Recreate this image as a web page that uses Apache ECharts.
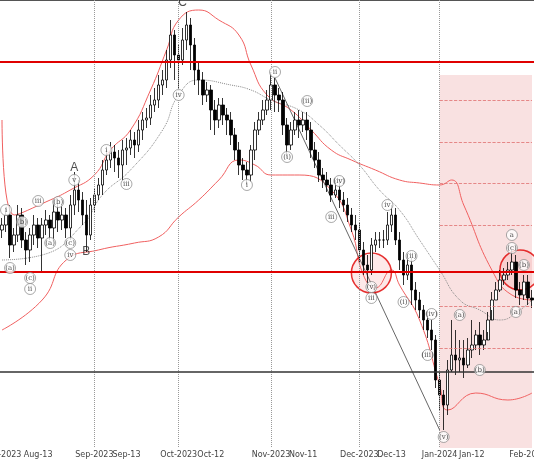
<!DOCTYPE html>
<html><head><meta charset="utf-8">
<script src="https://cdn.jsdelivr.net/npm/echarts@6/dist/echarts.min.js"></script>
<style>html,body{margin:0;padding:0;background:#fff}#c{width:534px;height:462px}</style>
</head><body><div id="c"></div>
<script>
// price scale: chart units, larger = lower on chart (axis inverted)
const opens=[230,225,215,245,235,215,240,250,235,225,
238,225,220,228,212,220,215,228,205,190,
200,215,235,205,195,185,170,160,152,158,
165,150,148,140,145,130,120,118,105,100,
85,80,60,35,55,60,40,25,45,70,
80,95,90,110,120,105,115,120,135,150,
165,170,175,150,130,120,110,100,85,95,
100,125,145,130,120,125,120,130,150,160,
175,180,185,195,190,200,205,215,225,230,
250,265,270,245,240,240,240,225,215,240,
260,275,265,290,300,310,320,330,340,380,
395,405,370,355,360,358,365,350,345,335,
345,340,320,300,290,280,275,270,262,290,
295,282,298];
const closes=[225,215,245,235,215,240,250,235,225,238,
225,220,228,212,220,215,228,205,190,200,
215,235,205,195,185,170,160,152,158,165,
150,148,140,145,130,120,118,105,100,85,
80,60,35,55,60,40,25,45,70,80,
95,90,110,120,105,115,120,135,150,165,
170,175,150,130,120,110,100,85,95,100,
125,145,130,120,125,120,130,150,160,175,
180,185,195,190,200,205,215,225,230,250,
265,270,245,240,240,240,225,215,240,260,
275,265,290,300,310,320,330,340,380,395,
405,370,355,360,358,365,350,345,335,345,
340,320,300,290,280,275,270,262,290,295,
282,298,300];
const highs=[218,208,205,228,205,208,232,228,215,218,
218,210,215,200,204,205,208,195,172,180,
192,200,198,188,178,160,150,142,145,150,
140,138,130,132,120,112,108,95,88,75,
70,50,20,30,45,28,12,18,38,62,
72,82,85,100,98,98,108,112,128,142,
158,162,145,122,112,100,90,72,78,88,
92,118,122,112,110,112,112,122,142,152,
168,172,178,180,180,192,198,208,215,222,
242,255,238,232,232,230,212,205,208,232,
252,258,258,282,292,305,312,320,335,372,
390,360,320,330,340,340,338,320,330,322,
330,312,292,282,270,268,262,250,255,282,
275,275,290];
const lows=[238,232,258,252,242,248,265,262,245,248,
272,235,240,240,232,230,238,240,215,212,
225,252,240,212,200,195,175,168,172,178,
180,165,155,158,152,140,128,125,112,108,
95,88,68,80,88,65,50,70,85,95,
105,102,130,135,128,125,135,145,160,175,
180,185,182,160,135,125,115,110,112,112,
135,158,150,135,138,132,140,158,168,182,
188,192,202,198,208,212,222,232,240,262,
275,288,275,252,248,248,245,232,245,270,
285,280,305,310,318,330,338,350,388,410,
430,415,372,375,372,378,368,358,350,355,
350,332,310,300,292,285,280,275,298,305,
300,305,308];
const upperBand=[[0,120],[3,215],[12,200],[17,190],[23,175],[27,150],[32,130],[37,90],[41,50],[44,20],[49,10],[54,20],[59,35],[62,65],[66,95],[72,110],[77,130],[82,150],[87,160],[93,170],[99,180],[104,183],[109,185],[112,180],[115,205],[122,270],[127,295],[132,300]];
const lowerBand=[[0,330],[10,300],[16,260],[24,250],[33,243],[39,237],[44,217],[49,200],[54,180],[59,160],[63,165],[67,175],[74,175],[82,190],[87,230],[90,275],[93,288],[97,270],[99,285],[104,320],[109,385],[111,410],[118,393],[126,400],[132,393]];
const midBand=[[0,260],[10,255],[20,225],[25,195],[32,170],[40,130],[44,95],[49,80],[57,85],[62,90],[67,100],[74,110],[79,125],[84,145],[89,165],[94,190],[99,210],[104,240],[109,270],[114,300],[119,310],[124,320],[129,310],[132,300]];
const trendLine=[[68,78],[109,430]];
const tickLabels={0:'Aug-2023',9:'Aug-13',23:'Sep-2023',31:'Sep-13',44:'Oct-2023',52:'Oct-12',67:'Nov-2023',75:'Nov-11',89:'Dec-2023',97:'Dec-13',109:'Jan-2024',117:'Jan-12',131:'Feb-2024'};
const monthLines=[23,44,67,89,109];
const hLevels=[{y:62,c:'#e00000',w:2},{y:272,c:'#e00000',w:2},{y:372,c:'#333',w:1.5}];
const zoneLevels=[100,142,183,225,306,348];
const circles=[[91.8,273],[129.2,270]];
const bigLabels=[[45,3,'C'],[18,168,'A'],[21,252,'B']];
const waveLabels=[[1,210,'i'],[2,268,'(a)'],[4.5,222,'(b)'],[6.5,278,'(c)'],[6.5,289,'ii'],[9,201,'iii'],[12,243,'(a)'],[14,202,'(b)'],[16.5,243,'(c)'],[16.5,255,'iv'],[18,180,'v'],[26,150,'i'],[31,184,'iii'],[44,95,'iv'],[61,185,'i'],[67.5,72,'ii'],[71,157,'(i)'],[76,101,'(ii)'],[84,181,'(iv)'],[82,217,'iii'],[92,287,'(v)'],[92,298,'iii'],[96,205,'iv'],[102,256,'(ii)'],[100,302,'(i)'],[107,314,'(iv)'],[106,355,'(iii)'],[109.5,437,'(v)'],[114,315,'(a)'],[118.5,370,'(b)'],[127,235,'a'],[127,248,'(c)'],[130,265,'(b)'],[127.5,312,'(a)']];

const cats=closes.map((_,i)=>String(i));
const candles=closes.map((c,i)=>[opens[i],c,highs[i],lows[i]]);
const N=closes.length-1;
const chart=echarts.init(document.getElementById('c'));
chart.setOption({
  animation:false,
  grid:{left:0,right:0,top:0,bottom:14,containLabel:false,outerBoundsMode:'none'},
  xAxis:{type:'category',data:cats,boundaryGap:true,
    axisLine:{lineStyle:{color:'#555'}},
    axisTick:{interval:(i)=>i in tickLabels,length:3,lineStyle:{color:'#555'}},
    axisLabel:{interval:(i)=>i in tickLabels,formatter:(v,i)=>tickLabels[i]||'',fontSize:8,color:'#444',margin:3,fontFamily:'DejaVu Sans'},
    splitLine:{show:false}},
  yAxis:{type:'value',inverse:true,min:0,max:448,show:false},
  series:[
    {type:'line',data:[],silent:true,
     markArea:{silent:true,itemStyle:{color:'rgba(238,170,170,0.35)'},data:[[{coord:[109,75]},{coord:[N,448]}]]},
     markLine:{silent:true,symbol:'none',label:{show:false},data:[
       ...monthLines.map(m=>({xAxis:m,lineStyle:{color:'#999',type:'dotted',width:1}})),
       ...zoneLevels.map(y=>[{coord:[109,y],lineStyle:{color:'#e07070',type:'dashed',width:0.8}},{coord:[N,y]}]),
       ...hLevels.map(h=>({yAxis:h.y,lineStyle:{color:h.c,type:'solid',width:h.w}}))
     ]}},
    {type:'line',data:upperBand,smooth:true,symbol:'none',lineStyle:{color:'#f06060',width:1}},
    {type:'line',data:lowerBand,smooth:true,symbol:'none',lineStyle:{color:'#f06060',width:1}},
    {type:'line',data:midBand,smooth:true,symbol:'none',lineStyle:{color:'#888',width:1,type:'dotted'}},
    {type:'line',data:trendLine,symbol:'none',lineStyle:{color:'#666',width:1}},
    {type:'scatter',data:circles,symbol:'circle',symbolSize:40,itemStyle:{color:'rgba(240,120,120,0.2)',borderColor:'#e00000',borderWidth:1.5},z:3},
    {type:'candlestick',data:candles,barWidth:3,
     itemStyle:{color:'#000',color0:'#fff',borderColor:'#000',borderColor0:'#000',borderWidth:0.8},z:4},
    {type:'scatter',data:waveLabels,symbol:'circle',symbolSize:11,z:6,
     itemStyle:{color:'#fff',borderColor:'#777',borderWidth:0.8},
     label:{show:true,position:'inside',formatter:p=>p.data[2],fontSize:7,color:'#222',fontFamily:'DejaVu Serif'}},
    {type:'scatter',data:bigLabels,symbolSize:1,itemStyle:{color:'transparent'},z:6,
     label:{show:true,position:'inside',formatter:p=>p.data[2],fontSize:12,color:'#222',fontFamily:'Liberation Sans'}}
  ]
});
</script></body></html>
